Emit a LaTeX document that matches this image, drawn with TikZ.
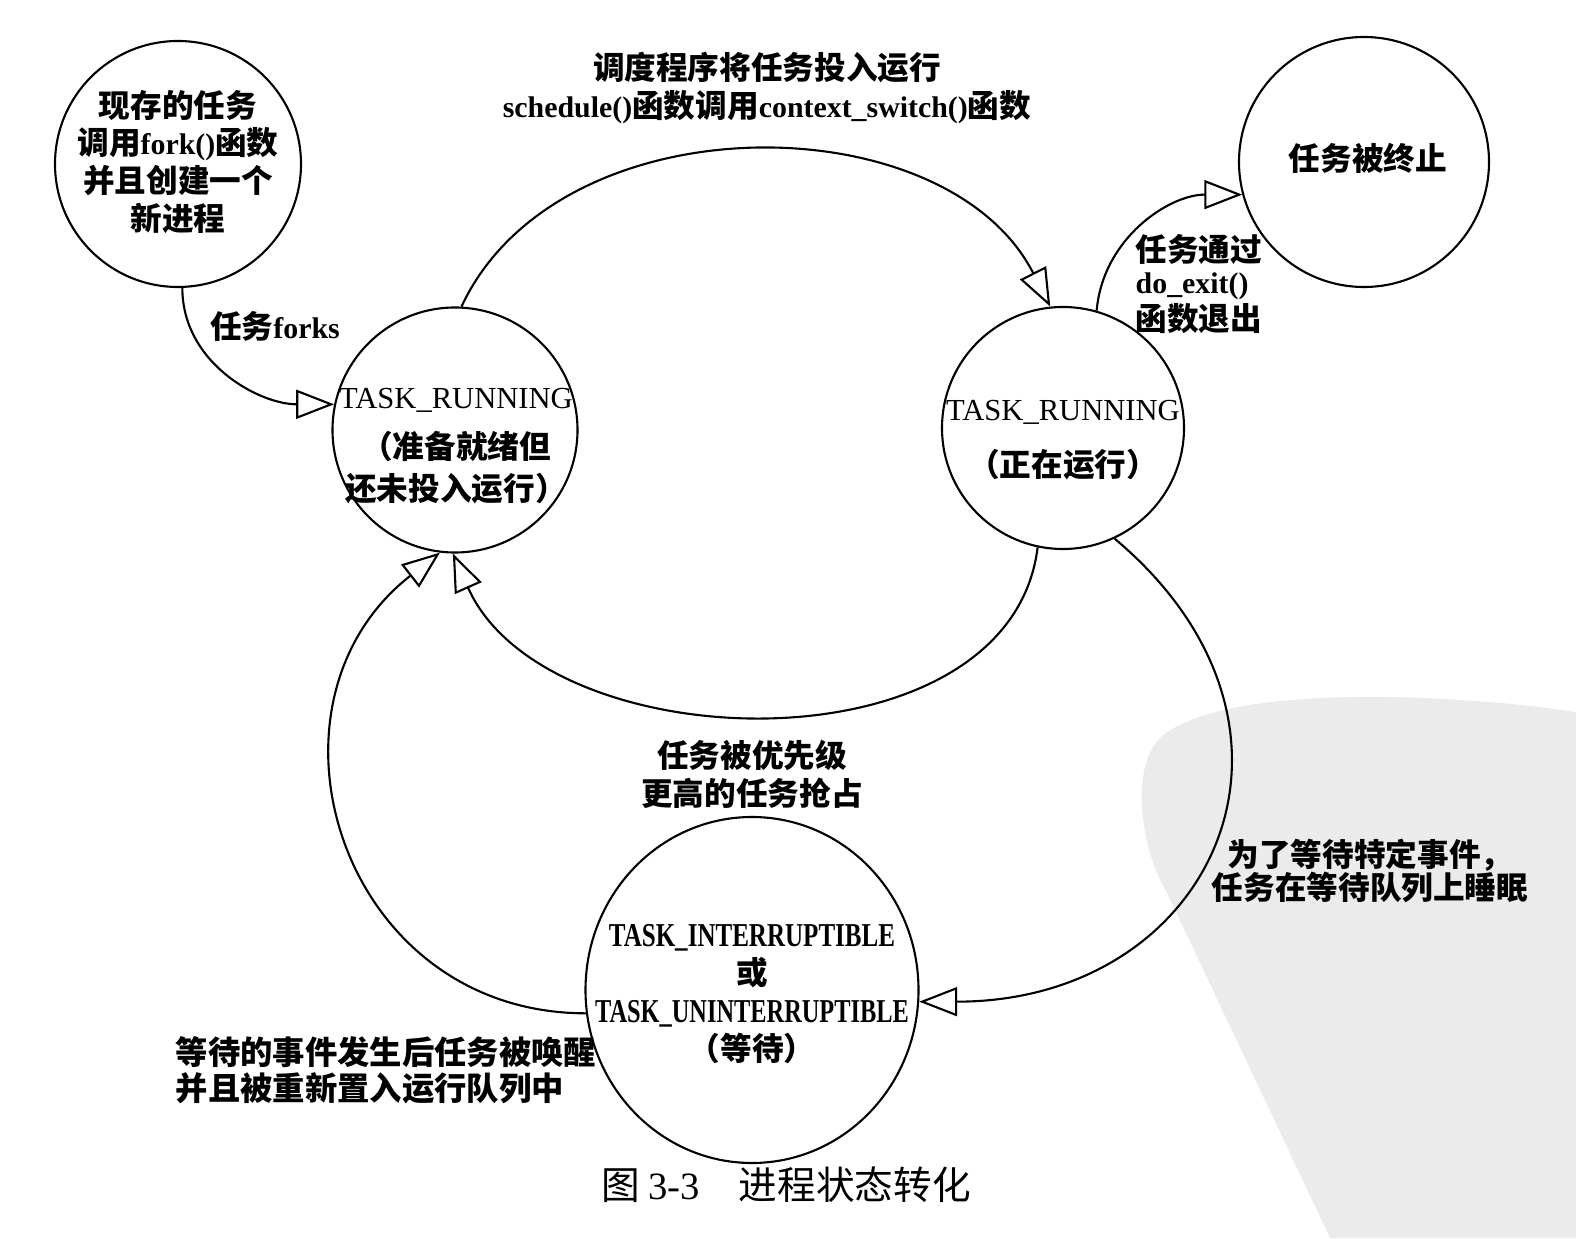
\documentclass[tikz,border=0pt]{standalone}
\usepackage{fontspec}
\usepackage{graphicx}
\setmainfont{Liberation Serif}
\newfontfamily\cjk{Noto Sans CJK SC}
\usetikzlibrary{arrows.meta,shapes.geometric}

\newcommand\en[1]{{\rmfamily\fontsize{8.5}{10}\selectfont #1}}
\newcommand\tsk[2]{\scalebox{#1}[1]{\rmfamily\fontsize{9.5}{10}\selectfont #2}}

\tikzset{
  every node/.style={font=\cjk\bfseries\fontsize{9}{10.8}\selectfont,align=center,inner sep=0pt},
  state/.style={circle,draw,line width=0.6pt,minimum size=24.5mm},
  trans/.style={line width=0.6pt,-{Triangle[open,length=3.8mm,width=2.9mm]}}
}

\begin{document}
\begin{tikzpicture}
      \useasboundingbox (0,0) rectangle (15.76,12.38);
      % grey patch of the scan
      \fill [black!8] (15.76,5.26) .. controls (14.5,5.45) and (12.2,5.55) .. (11.6,5.0)
        .. controls (11.3,4.7) and (11.4,3.9) .. (11.67,3.45) -- (13.3,0) -- (15.76,0) -- cycle;

      \node [state,minimum size=24.6mm] (fork) at (1.78,10.74) {};
      \node [state] (ready) at (4.55,8.08) {};
      \node [state,minimum size=24.2mm] (run) at (10.63,8.10) {};
      \node [state,minimum size=25mm] (dead) at (13.64,10.76) {};
      \node [state,ellipse,minimum width=33.3mm,minimum height=34.6mm] (wait) at (7.52,2.48) {};

      % texts in the states
      \node (fork-txt) at (1.78,10.76) {现存的任务\\调用\en{fork()}函数\\并且创建一个\\新进程};
      \node (ready-txt) at (4.56,7.92) {\en{\mdseries\fontsize{8.7}{10}\selectfont TASK\_RUNNING}\\[1.2mm]（准备就绪但\\[0.4mm]还未投入运行）};
      \node (run-txt) at (10.63,7.98) {\en{\mdseries\fontsize{8.7}{10}\selectfont TASK\_RUNNING}\\[1.8mm]（正在运行）};
      \node (dead-txt) at (13.68,10.80) {任务被终止};
      \node (wait-txt) at (7.52,2.44)
        {\tsk{0.75}{\bfseries TASK\_INTERRUPTIBLE}\\或\\\tsk{0.73}{\bfseries TASK\_UNINTERRUPTIBLE}\\（等待）};

      % texts at the transitions
      \node (forklab) at (2.75,9.12) {任务\en{forks}};
      \node [font=\cjk\bfseries\fontsize{9}{11}\selectfont] (schedlab) at (7.67,11.50)
        {调度程序将任务投入运行\\\en{schedule()}函数调用\en{context\_switch()}函数};
      \node [font=\cjk\bfseries\fontsize{9}{9.2}\selectfont,align=left,anchor=west] (exitlab) at (11.35,9.54)
        {任务通过\\\en{do\_exit()}\\函数退出};
      \node (preemptlab) at (7.52,4.64) {任务被优先级\\更高的任务抢占};
      \node [font=\cjk\bfseries\fontsize{9}{9.4}\selectfont] (sleeplab) at (13.70,3.67)
        {为了等待特定事件，\\任务在等待队列上睡眠};
      \node [font=\cjk\bfseries\fontsize{9.2}{10.2}\selectfont,align=left,anchor=west] (wakelab) at (1.75,1.68)
        {等待的事件发生后任务被唤醒\\并且被重新置入运行队列中};
      \node [font=\cjk\fontsize{11}{13}\selectfont] (caption) at (7.86,0.53) {图 {\rmfamily 3-3}\quad 进程状态转化};

      \draw [trans] (fork.-88) to [out=-90,in=180] (ready.168);
      \draw [trans] (ready.87) to [out=65,in=117] (run.96);
      \draw [trans] (run.-102) to [out=-97,in=-66] (ready.-91);
      \draw [trans] (run.-65) to [out=-40,in=0,looseness=1.5] (wait.-4);
      \draw [trans] (wait.188) to [out=180,in=-142,looseness=1.3] (ready.-97);
      \draw [trans] (run.74) to [out=85,in=180] (dead.195);
\end{tikzpicture}
\end{document}
